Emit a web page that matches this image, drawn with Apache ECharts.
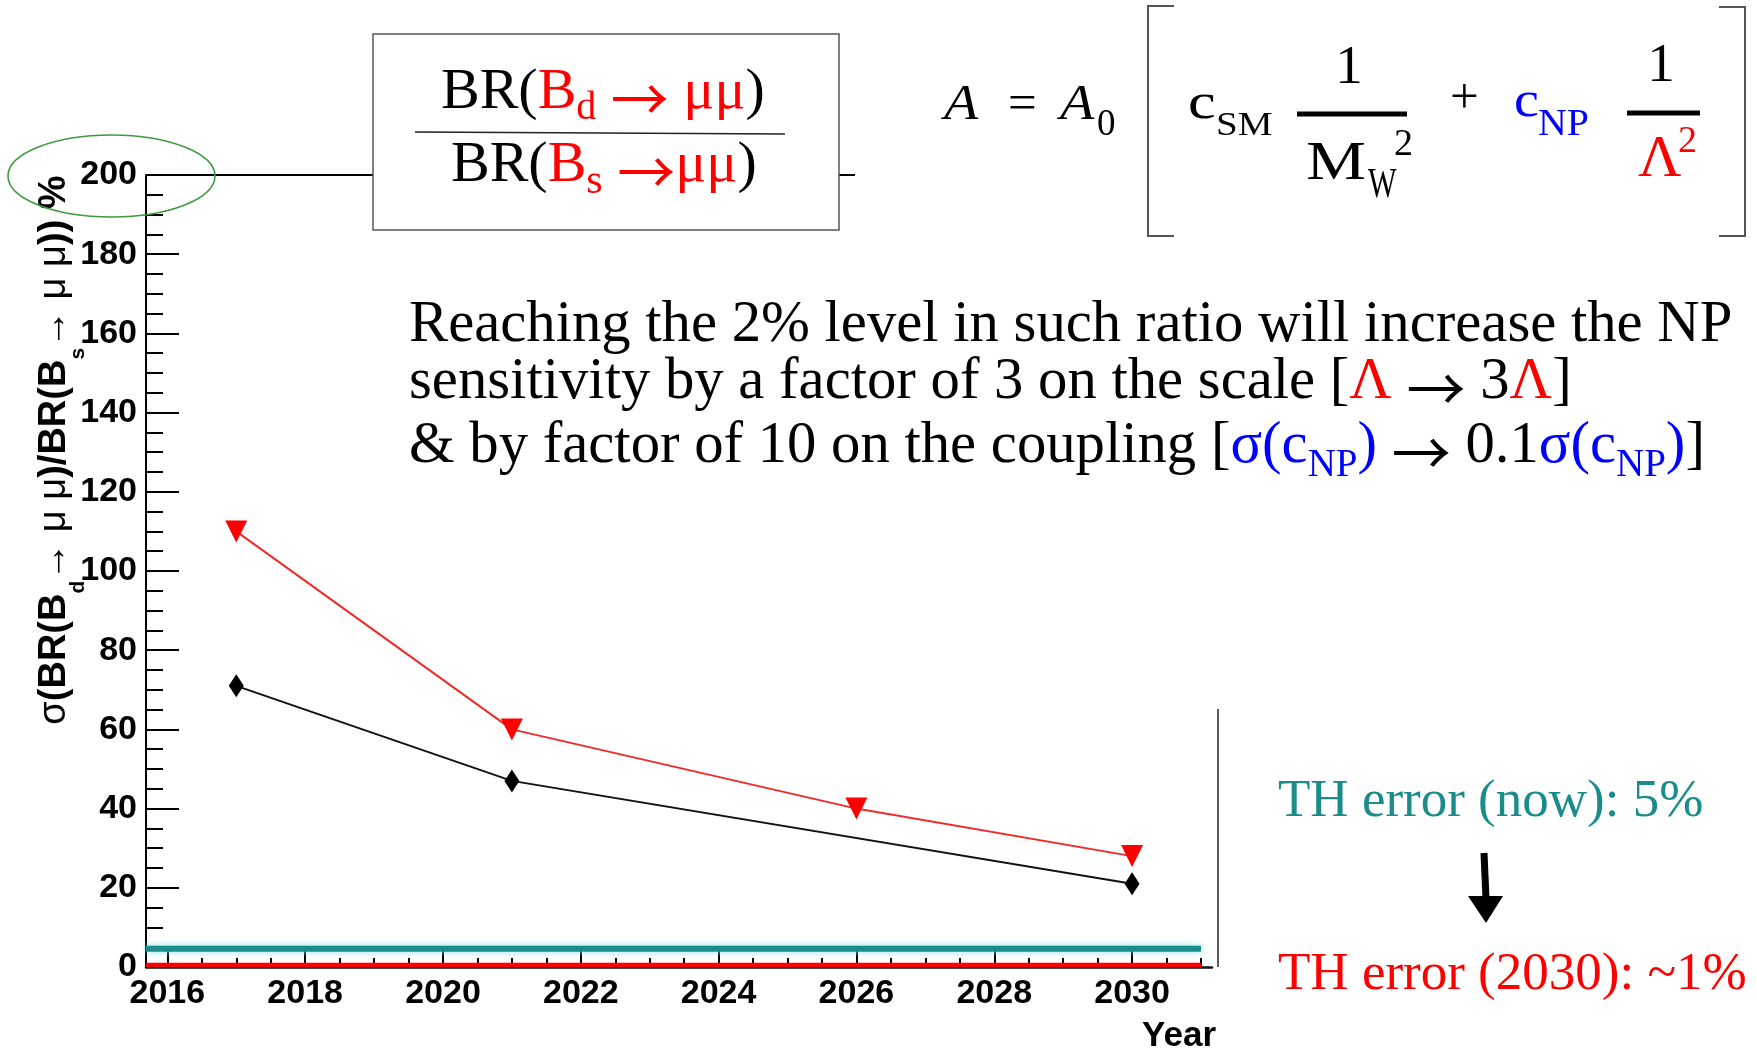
<!DOCTYPE html>
<html><head><meta charset="utf-8">
<script src="https://cdn.jsdelivr.net/npm/echarts@6/dist/echarts.min.js"></script>
<style>html,body{margin:0;padding:0;background:#fff;}#c{width:1757px;height:1057px;}</style>
</head><body><div id="c"></div>
<script>
// ---- data ----
const redYears = [2017, 2021, 2026, 2030];
const redValues = [110, 60, 40, 28];
const blackYears = [2017, 2021, 2030];
const blackValues = [71, 47, 21];
const thYears = [2015.69, 2031.0];
const thNowValues = [4.6, 4.6];
const th2030Values = [0.5, 0.5];
const xMajorTicks = [2016, 2018, 2020, 2022, 2024, 2026, 2028, 2030];
const xMinorTicks = [2016, 2016.5, 2017, 2017.5, 2018, 2018.5, 2019, 2019.5, 2020, 2020.5, 2021, 2021.5,
  2022, 2022.5, 2023, 2023.5, 2024, 2024.5, 2025, 2025.5, 2026, 2026.5, 2027, 2027.5, 2028, 2028.5,
  2029, 2029.5, 2030, 2030.5, 2031];
const xRange = [2015.69, 2031.16];
const yRange = [0, 200];
const yInterval = 20;

const SERIF = '"Liberation Serif","Times New Roman",serif';
const SANS = '"Liberation Sans",Arial,sans-serif';
const ARROWF = '"Noto Sans CJK JP",sans-serif';
const KS = 0.3375, KA = 0.3465;

function T(x, base, text, size, o) {
  o = o || {};
  return { type: 'text', z: 40, silent: true, x: x, y: base - KS * size, scaleX: o.sx || 1,
    style: { text: text, fill: o.color || '#000', align: o.align || 'left', verticalAlign: 'middle',
      font: (o.italic ? 'italic ' : '') + size + 'px ' + SERIF } };
}
function R(x, base, size, text, rich, o) {
  o = o || {};
  const r = {};
  Object.keys(rich || {}).forEach(k => { r[k] = Object.assign({ verticalAlign: 'middle' }, rich[k]); });
  return { type: 'text', z: 40, silent: true, x: x, y: base - KS * size,
    style: { text: text, fill: o.color || '#000', font: size + 'px ' + SERIF, lineHeight: size * 1.4,
      align: o.align || 'left', verticalAlign: 'middle', rich: r } };
}
const RED = '#ff0000', BLUE = '#0000ff', TEAL = '#1a8c8c';
const arrowStyle = (size, color) => ({ fill: color, font: Math.round(size) + 'px ' + ARROWF, padding: [Math.round(size * 0.22), 0, 0, 0] });

const graphics = [
  // frame pieces
  { type: 'line', z: 10, silent: true, shape: { x1: 146, y1: 175, x2: 855, y2: 175 }, style: { stroke: '#000', lineWidth: 2 } },
  { type: 'line', z: 10, silent: true, shape: { x1: 1218, y1: 709, x2: 1218, y2: 967 }, style: { stroke: '#222', lineWidth: 1.5 } },
  // fraction box
  { type: 'rect', z: 20, silent: true, shape: { x: 373, y: 34, width: 466, height: 196 }, style: { fill: '#fff', stroke: '#555', lineWidth: 1.5 } },
  { type: 'line', z: 21, silent: true, shape: { x1: 415, y1: 132, x2: 785, y2: 134 }, style: { stroke: '#222', lineWidth: 1.5 } },
  R(441, 112, 58, '{k|BR(}{r|B}{rs|d}{r| }{ra|→}{r| μμ}{k|)}', {
    k: { fill: '#000' }, r: { fill: RED }, ra: arrowStyle(58, RED),
    rs: { fill: RED, font: '40px ' + SERIF, padding: [32, 0, 0, 0] } }),
  R(451, 185, 58, '{k|BR(}{r|B}{rs|s}{r| }{ra|→}{r|μμ}{k|)}', {
    k: { fill: '#000' }, r: { fill: RED }, ra: arrowStyle(58, RED),
    rs: { fill: RED, font: '42px ' + SERIF, padding: [34, 0, 0, 0] } }),
  // formula
  T(944, 123, 'A', 51, { italic: true, sx: 1.1 }),
  T(1008, 123, '=', 51),
  T(1060, 123, 'A', 51, { italic: true, sx: 1.1 }),
  T(1097, 138, '0', 37),
  { type: 'polyline', z: 30, silent: true, shape: { points: [[1174, 6], [1148, 6], [1148, 236], [1174, 236]] }, style: { stroke: '#555', lineWidth: 2, fill: null } },
  { type: 'polyline', z: 30, silent: true, shape: { points: [[1719, 7], [1745, 7], [1745, 236], [1719, 236]] }, style: { stroke: '#555', lineWidth: 2, fill: null } },
  T(1188, 122, 'c', 50, { sx: 1.25 }),
  T(1216, 138, 'SM', 34, { sx: 1.15 }),
  { type: 'line', z: 30, silent: true, shape: { x1: 1297, y1: 114, x2: 1407, y2: 114 }, style: { stroke: '#000', lineWidth: 5 } },
  T(1349, 87, '1', 55, { align: 'center' }),
  T(1306, 183, 'M', 54, { sx: 1.25 }),
  T(1368, 200, 'W', 42, { sx: 0.72 }),
  T(1394, 158, '2', 38),
  T(1450, 117, '+', 51),
  T(1514, 120, 'c', 51, { color: BLUE, sx: 1.1 }),
  T(1538, 138, 'NP', 38, { color: BLUE, sx: 1.05 }),
  { type: 'line', z: 30, silent: true, shape: { x1: 1627, y1: 113, x2: 1700, y2: 113 }, style: { stroke: '#000', lineWidth: 5 } },
  T(1661, 85, '1', 55, { align: 'center' }),
  T(1638, 180, 'Λ', 60, { color: RED }),
  T(1678, 155, '2', 38, { color: RED }),
  // paragraph
  R(409, 345, 58.7, 'Reaching the 2% level in such ratio will increase the NP', {}),
  R(409, 402, 58.7, 'sensitivity by a factor of 3 on the scale [{r|Λ} {a|→} 3{r|Λ}]', { r: { fill: RED }, a: arrowStyle(58.7, '#000') }),
  R(409, 466, 58.7, '& by factor of 10 on the coupling [{b|σ(c}{bs|NP}{b|)} {a|→} 0.1{b|σ(c}{bs|NP}{b|)}]', {
    b: { fill: BLUE }, a: arrowStyle(58.7, '#000'),
    bs: { fill: BLUE, font: '39px ' + SERIF, padding: [40, 0, 0, 0] } }),
  // TH errors
  T(1278, 820, 'TH error (now): 5%', 53, { color: TEAL }),
  T(1278, 993, 'TH error (2030): ~1%', 53, { color: RED }),
  { type: 'line', z: 30, silent: true, shape: { x1: 1484, y1: 853, x2: 1486, y2: 899 }, style: { stroke: '#000', lineWidth: 7 } },
  { type: 'polygon', z: 30, silent: true, shape: { points: [[1468, 896], [1503, 896], [1486, 923]] }, style: { fill: '#000' } },
  // axis titles
  { type: 'text', z: 40, silent: true, x: 55, y: 450, rotation: Math.PI / 2,
    style: { text: '{n|σ}{b|(BR(B}{sub|d}{n|→ μ μ}{b|)/BR(B}{sub|s}{n|→ μ μ}{b|)) %}',
      font: 'bold 38px ' + SANS, fill: '#000', align: 'center', verticalAlign: 'middle', lineHeight: 60,
      rich: {
        n: { font: '38px ' + SANS, verticalAlign: 'middle' },
        b: { font: 'bold 38px ' + SANS, verticalAlign: 'middle' },
        sub: { font: 'bold 21px ' + SANS, verticalAlign: 'middle', padding: [46, 0, 0, 0] }
      } } },
  { type: 'text', z: 40, silent: true, x: 1216, y: 1048 - KA * 35,
    style: { text: 'Year', font: 'bold 35px ' + SANS, fill: '#000', align: 'right', verticalAlign: 'middle' } },
  // green ellipse
  { type: 'ellipse', z: 50, silent: true, shape: { cx: 111.5, cy: 176, rx: 103.5, ry: 41 }, style: { fill: null, stroke: '#3f9a3f', lineWidth: 1.6 } }
];

const chart = echarts.init(document.getElementById('c'));
chart.setOption({
  animation: false,
  backgroundColor: '#fff',
  grid: { left: 146, right: 1757 - 1212, top: 175, bottom: 1057 - 967, containLabel: false, outerBoundsMode: 'none' },
  xAxis: [
    { type: 'value', min: xRange[0], max: xRange[1],
      axisLine: { show: true, onZero: false, lineStyle: { color: '#111', width: 2.5 } },
      axisTick: { show: true, inside: true, length: 21, lineStyle: { color: '#000', width: 2 }, customValues: xMajorTicks },
      axisLabel: { show: true, customValues: xMajorTicks, margin: 10, color: '#000', fontSize: 34, fontWeight: 'bold', fontFamily: SANS,
        formatter: v => String(v) },
      splitLine: { show: false }, minorTick: { show: false } },
    { type: 'value', min: xRange[0], max: xRange[1], position: 'bottom',
      axisLine: { show: false, onZero: false },
      axisTick: { show: true, inside: true, length: 9, lineStyle: { color: '#000', width: 2 }, customValues: xMinorTicks },
      axisLabel: { show: false }, splitLine: { show: false } }
  ],
  yAxis: { type: 'value', min: yRange[0], max: yRange[1], interval: yInterval,
    axisLine: { show: true, onZero: false, lineStyle: { color: '#000', width: 2 } },
    axisTick: { show: true, inside: true, length: 33, lineStyle: { color: '#000', width: 2 } },
    minorTick: { show: true, splitNumber: 4, length: 17, lineStyle: { color: '#000', width: 2 } },
    axisLabel: { margin: 9, color: '#000', fontSize: 34, fontWeight: 'bold', fontFamily: SANS, padding: [5, 0, 0, 0],
      formatter: v => String(v) },
    splitLine: { show: false } },
  series: [
    { type: 'line', xAxisIndex: 0, data: thYears.map((x, i) => [x, thNowValues[i]]), symbol: 'none', z: 3, silent: true,
      lineStyle: { color: TEAL, width: 6, shadowColor: 'rgba(120,225,235,0.95)', shadowBlur: 6 } },
    { type: 'line', xAxisIndex: 0, data: thYears.map((x, i) => [x, th2030Values[i]]), symbol: 'none', z: 3, silent: true,
      lineStyle: { color: RED, width: 4.5 } },
    { type: 'line', xAxisIndex: 0, data: blackYears.map((x, i) => [x, blackValues[i]]), z: 4, silent: true,
      symbol: 'diamond', symbolSize: [15, 23], itemStyle: { color: '#000', borderWidth: 0 },
      lineStyle: { color: '#111', width: 2 } },
    { type: 'line', xAxisIndex: 0, data: redYears.map((x, i) => [x, redValues[i]]), z: 5, silent: true,
      symbol: 'triangle', symbolRotate: 180, symbolSize: [22, 22], itemStyle: { color: RED, borderWidth: 0 },
      lineStyle: { color: '#f02a2a', width: 2 } }
  ],
  graphic: graphics
});
</script>
</body></html>
